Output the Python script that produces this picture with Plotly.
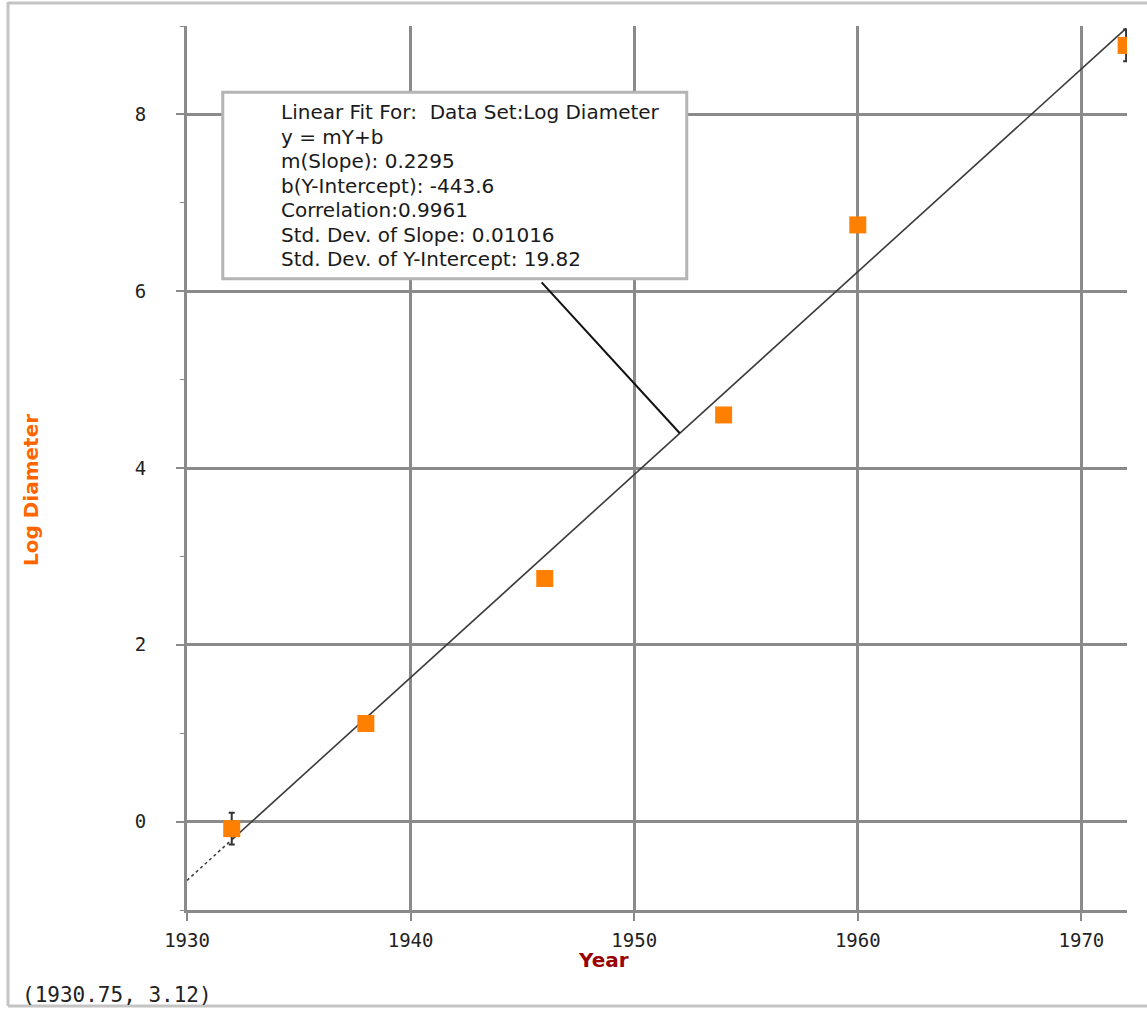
import plotly.graph_objects as go

# ---- data ----
years = [1932, 1938, 1946, 1954, 1960, 1972]
log_diameter = [-0.08, 1.11, 2.75, 4.60, 6.75, 8.78]
err = [0.18, 0, 0, 0, 0, 0.18]
slope = 0.2295
intercept = -443.6
fit_lines = [
    "Linear Fit For:  Data Set:Log Diameter",
    "y = mY+b",
    "m(Slope): 0.2295",
    "b(Y-Intercept): -443.6",
    "Correlation:0.9961",
    "Std. Dev. of Slope: 0.01016",
    "Std. Dev. of Y-Intercept: 19.82",
]
x_ticks = [1930, 1940, 1950, 1960, 1970]
y_ticks = [0, 2, 4, 6, 8]
cursor_text = "(1930.75, 3.12)"
x_title = "Year"
y_title = "Log Diameter"

W, H = 1147, 1009
ML, MR, MT, MB = 187, 20, 26, 99
PW, PH = W - ML - MR, H - MT - MB

def px(x):
    return (x - ML) / PW

def py(y):
    return (H - MB - y) / PH

GRID = "#8a8a8a"

fig = go.Figure()

# fit line: extrapolated (dotted) and fitted (solid)
xd = [1930, years[0]]
xs = [years[0], 1972]
fig.add_trace(go.Scatter(x=xd, y=[slope * v + intercept for v in xd], mode="lines",
                         line=dict(color="#3a3a3a", width=1.5, dash="dot"),
                         showlegend=False, hoverinfo="skip"))
fig.add_trace(go.Scatter(x=xs, y=[slope * v + intercept for v in xs], mode="lines",
                         line=dict(color="#3a3a3a", width=1.6),
                         showlegend=False, hoverinfo="skip"))

fig.add_trace(go.Scatter(
    x=years, y=log_diameter, mode="markers",
    marker=dict(symbol="square", size=17, color="#FF8000", line=dict(width=0)),
    error_y=dict(type="data", array=err, visible=True, color="#333333", thickness=2, width=3),
    showlegend=False,
))

# annotation box
bx0, bx1, by0, by1 = 1931.6, 1952.35, 6.14, 8.25
fig.add_shape(type="rect", xref="x", yref="y", x0=bx0, x1=bx1, y0=by0, y1=by1,
              fillcolor="white", line=dict(color="#b4b4b4", width=3), layer="above")
fig.add_shape(type="line", xref="x", yref="y", x0=1945.86, y0=6.10, x1=1952.04,
              y1=slope * 1952.04 + intercept, line=dict(color="#111111", width=2), layer="above")
for i, t in enumerate(fit_lines):
    fig.add_annotation(x=px(279), y=py(112 + i * 24.5), xref="paper", yref="paper",
                       text=t, showarrow=False, xanchor="left", yanchor="middle",
                       font=dict(family="DejaVu Sans", size=20, color="#1a1a1a"))

# axis titles
fig.add_annotation(x=px(603), y=py(960), xref="paper", yref="paper", text="<b>%s</b>" % x_title,
                   showarrow=False, xanchor="center", yanchor="middle",
                   font=dict(family="DejaVu Sans", size=20, color="#990000"))
fig.add_annotation(x=px(31), y=py(490), xref="paper", yref="paper", text="<b>%s</b>" % y_title,
                   showarrow=False, xanchor="center", yanchor="middle", textangle=-90,
                   font=dict(family="DejaVu Sans", size=20, color="#FF6600"))

# cursor readout
fig.add_annotation(x=px(20), y=py(995), xref="paper", yref="paper", text=cursor_text,
                   showarrow=False, xanchor="left", yanchor="middle",
                   font=dict(family="DejaVu Sans Mono", size=21, color="#222222"))

# window frame
frame = dict(color="#c4c4c4", width=3)
fig.add_shape(type="line", xref="paper", yref="paper", x0=px(8), x1=px(8), y0=py(2), y1=py(1006), line=frame)
fig.add_shape(type="line", xref="paper", yref="paper", x0=px(8), x1=px(1147), y0=py(3), y1=py(3), line=frame)
fig.add_shape(type="line", xref="paper", yref="paper", x0=px(8), x1=px(1147), y0=py(1006), y1=py(1006), line=frame)

fig.update_layout(
    width=W, height=H,
    margin=dict(l=ML, r=MR, t=MT, b=MB),
    paper_bgcolor="white", plot_bgcolor="white",
    xaxis=dict(range=[1930, 1972.04], tickvals=x_ticks, ticktext=[str(v) for v in x_ticks],
               showgrid=True, gridcolor=GRID, gridwidth=3,
               showline=True, linecolor=GRID, linewidth=3,
               ticks="outside", ticklen=8, tickwidth=2, tickcolor=GRID,
               tickfont=dict(family="DejaVu Sans Mono", size=19, color="#222222"),
               zeroline=False, ticklabelstandoff=3),
    yaxis=dict(range=[-1, 9], tickvals=y_ticks, ticktext=[str(v) for v in y_ticks],
               showgrid=True, gridcolor=GRID, gridwidth=3,
               showline=True, linecolor=GRID, linewidth=3,
               ticks="outside", ticklen=8, tickwidth=2, tickcolor=GRID,
               minor=dict(dtick=1, tick0=0, ticks="outside", ticklen=4, tickcolor=GRID, tickwidth=1, showgrid=False),
               tickfont=dict(family="DejaVu Sans Mono", size=19, color="#222222"),
               zeroline=False, ticklabelstandoff=26),
)

fig.write_html("out.html", config={"displayModeBar": False},
               post_script="document.body.style.margin='0';document.body.style.overflow='hidden';")
